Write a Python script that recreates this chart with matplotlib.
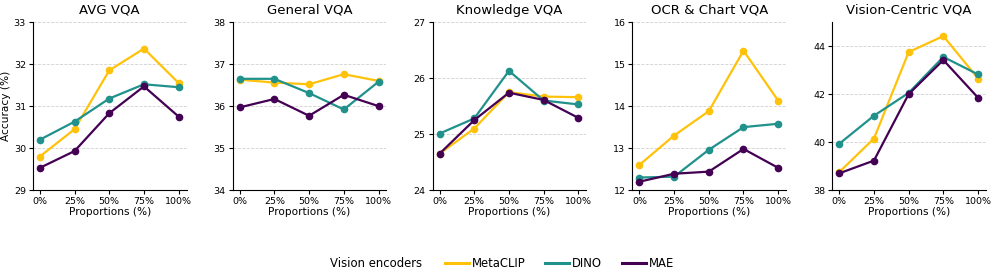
import numpy as np
import matplotlib.pyplot as plt
from matplotlib.lines import Line2D

# Data
proportions = ['0%', '25%', '50%', '75%', '100%']
titles = ['AVG VQA', 'General VQA', 'Knowledge VQA', 'OCR & Chart VQA', 'Vision-Centric VQA']
encoders = ['MetaCLIP', 'DINO', 'MAE']
colors = ['#FFC20A', '#21918C', '#440154']

metaclip = [
    [29.80, 30.45, 31.85, 32.37, 31.55],
    [36.63, 36.56, 36.52, 36.76, 36.60],
    [24.65, 25.10, 25.75, 25.67, 25.66],
    [12.60, 13.30, 13.88, 15.32, 14.13],
    [38.75, 40.15, 43.75, 44.42, 42.65],
]
dino = [
    [30.20, 30.63, 31.18, 31.52, 31.45],
    [36.65, 36.65, 36.31, 35.92, 36.58],
    [25.01, 25.28, 26.13, 25.60, 25.53],
    [12.30, 12.32, 12.96, 13.50, 13.58],
    [39.93, 41.10, 42.05, 43.55, 42.82],
]
mae = [
    [29.53, 29.93, 30.83, 31.47, 30.75],
    [35.97, 36.17, 35.77, 36.27, 36.00],
    [24.65, 25.25, 25.74, 25.61, 25.29],
    [12.20, 12.39, 12.44, 12.98, 12.53],
    [38.70, 39.23, 42.00, 43.42, 41.85],
]
ylims = [(29, 33), (34, 38), (24, 27), (12, 16), (38, 45)]
yticks = [[29, 30, 31, 32, 33], [34, 35, 36, 37, 38], [24, 25, 26, 27],
          [12, 13, 14, 15, 16], [38, 40, 42, 44]]

fig, axes = plt.subplots(1, 5, figsize=(9.97, 2.8), dpi=100)
fig.subplots_adjust(left=0.033, right=0.989, top=0.921, bottom=0.321, wspace=0.3)

x = np.arange(len(proportions))
for i, ax in enumerate(axes):
    for series, c in zip([metaclip, dino, mae], colors):
        ax.plot(x, series[i], '-o', color=c, lw=1.6, ms=4.5)
    ax.set_title(titles[i], fontsize=9.5)
    ax.set_xticks(x)
    ax.set_xticklabels(proportions)
    ax.tick_params(labelsize=6.8, length=3, pad=2)
    ax.set_xlabel('Proportions (%)', fontsize=7.6, labelpad=1)
    ax.set_ylim(*ylims[i])
    ax.set_yticks(yticks[i])
    ax.set_xlim(-0.2, 4.23)
    ax.grid(axis='y', ls='--', color='#d0d0d0', lw=0.6)
    ax.set_axisbelow(True)
    ax.spines['top'].set_visible(False)
    ax.spines['right'].set_visible(False)
axes[0].set_ylabel('Accuracy (%)', fontsize=7.6, labelpad=2)

fig.text(0.423, 0.06, 'Vision encoders', ha='right', va='center', fontsize=8.4)
handles = [Line2D([], [], color=c, lw=2.2, label=n) for c, n in zip(colors, encoders)]
fig.legend(handles=handles, loc='center', bbox_to_anchor=(0.561, 0.06), ncol=3,
           frameon=False, fontsize=8.4, handlelength=2.05, handletextpad=0.25,
           columnspacing=1.7)

fig.savefig('out.png')
